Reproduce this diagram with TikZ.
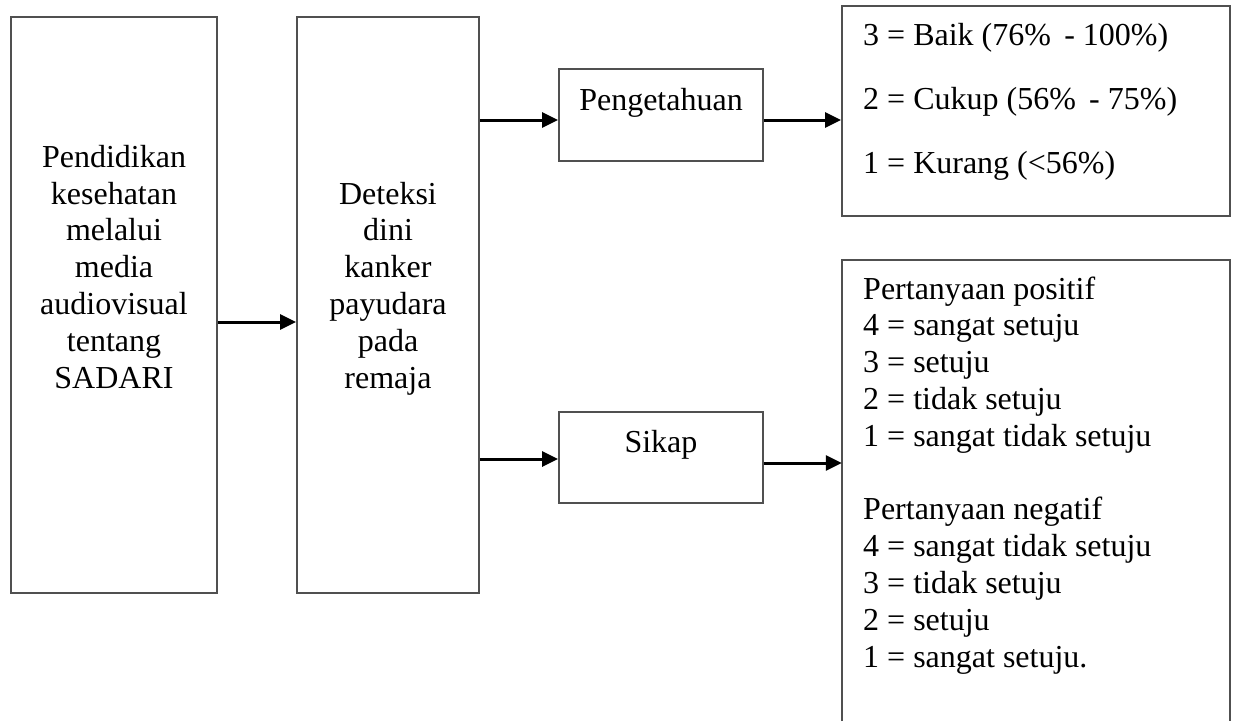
\documentclass[tikz,border=0pt]{standalone}
\usepackage{fontspec}
\setmainfont{Liberation Serif}
\usetikzlibrary{arrows.meta}
\definecolor{boxgray}{HTML}{505050}
\begin{document}
\begin{tikzpicture}[x=1pt,y=-1pt,
  boxst/.style={draw=boxgray,line width=1.8pt,inner sep=0pt},
  arr/.style={line width=3pt,-{Triangle[length=16pt,width=15pt]}},
  txt/.style={inner sep=0pt,font=\fontsize{32}{36.8}\selectfont},
  wide/.style={inner sep=0pt,font=\fontsize{32}{64}\selectfont}
]
\useasboundingbox (0,0) rectangle (1235,721);
% boxes
\node[boxst,minimum width=206pt,minimum height=576pt] (b1) at (114,305) {};
\node[boxst,minimum width=182pt,minimum height=576pt] (b2) at (388,305) {};
\node[boxst,minimum width=204pt,minimum height=92pt] (pg) at (661,115) {};
\node[boxst,minimum width=204pt,minimum height=91pt] (sk) at (661,457.5) {};
\node[boxst,minimum width=388pt,minimum height=210pt] (r1) at (1036,111) {};
\node[inner sep=0pt,minimum width=388pt,minimum height=461pt] (r2) at (1036,490.5) {};
\draw[boxgray,line width=1.8pt] (r2.south west) -- (r2.north west) -- (r2.north east) -- (r2.south east);
% texts (base anchor = baseline of last line)
\node[txt,align=center,anchor=base] (t1) at (114,388) {Pendidikan\\kesehatan\\melalui\\media\\audiovisual\\tentang\\SADARI};
\node[txt,align=center,anchor=base] (t2) at (388,388) {Deteksi\\dini\\kanker\\payudara\\pada\\remaja};
\node[txt,anchor=base] (tpg) at (661,110) {Pengetahuan};
\node[txt,anchor=base] (tsk) at (661,452) {Sikap};
\node[wide,align=left,anchor=base west] (tr1) at (863,173) {3 = Baik (76\% \,- 100\%)\\2 = Cukup (56\% \,- 75\%)\\1 = Kurang (<56\%)};
\node[txt,align=left,anchor=base west] (tr2) at (863,667) {Pertanyaan positif\\4 = sangat setuju\\3 = setuju\\2 = tidak setuju\\1 = sangat tidak setuju\\[36.8pt]Pertanyaan negatif\\4 = sangat tidak setuju\\3 = tidak setuju\\2 = setuju\\1 = sangat setuju.};
% arrows
\draw[arr] (b1.east |- 0,322) -- (b2.west |- 0,322);
\draw[arr] (b2.east |- 0,120) -- (pg.west |- 0,120);
\draw[arr] (b2.east |- 0,459) -- (sk.west |- 0,459);
\draw[arr] (pg.east |- 0,120) -- (r1.west |- 0,120);
\draw[arr] (sk.east |- 0,463) -- (r2.west |- 0,463);
\end{tikzpicture}
\end{document}
